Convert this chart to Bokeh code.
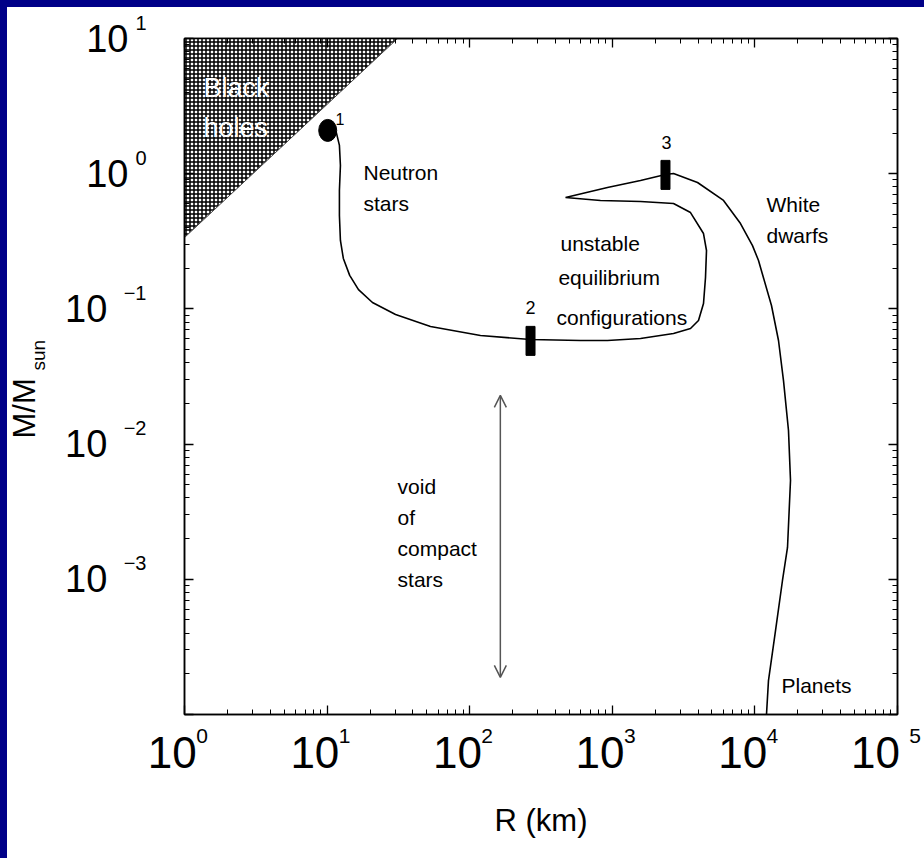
from bokeh.plotting import figure
from bokeh.models import (LogAxis, FixedTicker, Label, Arrow, OpenHead, Spacer,
                          Range1d, CustomJSTickFormatter, Title)
from bokeh.layouts import column, row
from bokeh.embed import file_html
from bokeh.resources import INLINE

# Mass-radius sequence of cold degenerate matter: from the maximum-mass
# neutron star (1) down to the minimum-mass neutron star (2), through the
# unstable branch to the white-dwarf maximum (3) and on to planets.
radius_km = [10.2, 11.6, 12.2, 12.4, 12.2, 12.2, 12.4, 13.0, 14.4, 16.6,
             20.8, 30.2, 53.1, 119, 267, 598, 925, 1577, 2687, 3535,
             4022, 4361, 4504, 4577, 4361, 3535, 2687, 1577, 826, 470,
             925, 1577, 2361, 2687, 3959, 6024, 7925, 9620, 10600, 13070,
             14640, 15870, 17200, 17770, 16930, 15610, 13950, 12450, 12060]
mass_msun = [2.16, 2.02, 1.62, 1.15, 0.751, 0.491, 0.321, 0.236, 0.177, 0.139,
             0.1115, 0.0909, 0.0741, 0.0636, 0.0594, 0.0584, 0.0584, 0.0604, 0.0658, 0.0716,
             0.0821, 0.1096, 0.1707, 0.2704, 0.361, 0.516, 0.602, 0.623, 0.634, 0.667,
             0.790, 0.891, 0.986, 1.003, 0.861, 0.634, 0.428, 0.294, 0.228, 0.106,
             0.0584, 0.0295, 0.0126, 0.00538, 0.00172, 0.00098, 0.000418, 0.000178, 0.0001]

# Turning points of the sequence
max_ns_radius, max_ns_mass = 10.1, 2.09
min_ns_radius, min_ns_mass = 267, 0.058
max_wd_radius, max_wd_mass = 2360, 0.98

# Schwarzschild limit R = 2GM/c^2: everything left of it collapses
bh_radius = [1.0, 1.0, 31.2]
bh_mass = [0.337, 10.0, 10.0]

# Mass gap between the lightest neutron stars and planets
void_radius = 164
void_mass_top, void_mass_bottom = 0.0229, 0.000188

# Decade tick labels: "10" with a raised exponent
x_decades = [0, 1, 2, 3, 4, 5]
x_exponents = ["0", "1", "2", "3", "4", "5"]
y_decades = [1, 0, -1, -2, -3]
y_exponents = ["1", "0", "\u22121", "\u22122", "\u22123"]

FONT = "Liberation Sans"
NAVY = "#000088"
NBSP = "\u00a0"

p = figure(width=917, height=851, x_axis_type="log", y_axis_type="log",
           x_range=Range1d(1, 1e5), y_range=Range1d(1e-4, 10),
           output_backend="svg", toolbar_location=None,
           min_border_left=177, min_border_right=27,
           min_border_top=31, min_border_bottom=144)
p.background_fill_color = "white"
p.border_fill_color = "white"
p.outline_line_color = "black"
p.outline_line_width = 1.5
p.grid.visible = False

blank = CustomJSTickFormatter(code="return ''")
x_major = [10.0 ** k for k in x_decades]
x_ticker = FixedTicker(ticks=x_major,
                       minor_ticks=[m * 10.0 ** k for k in range(0, 5) for m in range(2, 10)])
y_ticker = FixedTicker(ticks=[10.0 ** k for k in range(-4, 2)],
                       minor_ticks=[m * 10.0 ** k for k in range(-4, 1) for m in range(2, 10)])
y_label_ticker = FixedTicker(ticks=[10.0 ** k for k in y_decades])

# exponent labels, padded so they sit to the right of the tick
x_exp_fmt = CustomJSTickFormatter(
    args=dict(decades=x_decades, exps=x_exponents, pad=NBSP * 6),
    code="const i = decades.indexOf(Math.round(Math.log10(tick)));"
         "return i < 0 ? '' : pad + exps[i];")
x_ten_fmt = CustomJSTickFormatter(args=dict(pad=NBSP * 2), code="return '10' + pad;")
# exponent labels lifted half a line above the tick
y_exp_fmt = CustomJSTickFormatter(
    args=dict(decades=y_decades, exps=y_exponents, nb=NBSP),
    code="const i = decades.indexOf(Math.round(Math.log10(tick)));"
         "return i < 0 ? '' : exps[i] + '\\n' + nb;")
y_ten_fmt = CustomJSTickFormatter(
    args=dict(lead=NBSP * 2, pad=NBSP * 2),
    code="return lead + (Math.round(Math.log10(tick)) < 0 ? '10' + pad : '10');")


def frame_axis(ax, ticker, formatter):
    ax.ticker = ticker
    ax.formatter = formatter
    ax.major_tick_in = 9
    ax.major_tick_out = 0
    ax.minor_tick_in = 5
    ax.minor_tick_out = 0
    ax.axis_line_width = 1.5
    ax.major_tick_line_width = 1.3
    ax.minor_tick_line_width = 1.0
    ax.major_label_text_font = FONT
    ax.major_label_text_color = "black"
    ax.axis_label = None


def label_axis(ax, ticker, formatter, size, standoff):
    ax.ticker = ticker
    ax.formatter = formatter
    ax.axis_line_color = None
    ax.major_tick_line_color = None
    ax.minor_tick_line_color = None
    ax.major_tick_out = 0
    ax.minor_tick_out = 0
    ax.major_label_text_font = FONT
    ax.major_label_text_color = "black"
    ax.major_label_text_font_size = size
    ax.major_label_standoff = standoff


# Box: inner axes carry the ticks and the exponents
frame_axis(p.xaxis[0], x_ticker, x_exp_fmt)
p.xaxis[0].major_label_text_font_size = "21px"
p.xaxis[0].major_label_standoff = 9
frame_axis(p.yaxis[0], y_ticker, y_exp_fmt)
p.yaxis[0].major_label_text_font_size = "20px"
p.yaxis[0].major_label_text_line_height = 1.45
p.yaxis[0].major_label_standoff = 38

top_axis = LogAxis()
frame_axis(top_axis, x_ticker, blank)
p.add_layout(top_axis, "above")
right_axis = LogAxis()
frame_axis(right_axis, y_ticker, blank)
p.add_layout(right_axis, "right")

# Outer axes carry the "10" of each decade label and the axis titles
x_tens = LogAxis()
label_axis(x_tens, FixedTicker(ticks=x_major), x_ten_fmt, "44px", -22)
x_tens.axis_label = "R (km)"
x_tens.axis_label_text_font = FONT
x_tens.axis_label_text_color = "black"
x_tens.axis_label_text_font_size = "31px"
x_tens.axis_label_text_font_style = "normal"
x_tens.axis_label_standoff = 23
p.add_layout(x_tens, "below")

y_tens = LogAxis()
label_axis(y_tens, y_label_ticker, y_ten_fmt, "38px", -8)
y_tens.axis_label = None
p.add_layout(y_tens, "left")

p.add_layout(Title(text="sun", text_font=FONT, text_font_size="19px", text_color="black",
                   text_font_style="normal", align="left", offset=344, standoff=-14), "left")
p.add_layout(Title(text="M/M", text_font=FONT, text_font_size="31px", text_color="black",
                   text_font_style="normal", align="left", offset=276, standoff=-18), "left")

# Black-hole region, cross-hatched
p.patch(bh_radius, bh_mass, fill_color="white", line_color="#444444", line_width=1,
        hatch_pattern="cross", hatch_color="black", hatch_scale=4, hatch_weight=1.5)

# Mass-radius curve
p.line(radius_km, mass_msun, line_color="black", line_width=1.6)

# Turning-point markers
p.ellipse([max_ns_radius], [max_ns_mass], width=18, height=22,
          width_units="screen", height_units="screen",
          fill_color="black", line_color="black")
p.rect([min_ns_radius, max_wd_radius], [min_ns_mass, max_wd_mass], width=9, height=29,
       width_units="screen", height_units="screen", fill_color="black", line_color="black")

# Double-headed arrow across the void
p.add_layout(Arrow(x_start=void_radius, y_start=void_mass_top,
                   x_end=void_radius, y_end=void_mass_bottom,
                   line_color="#555555", line_width=1.5,
                   start=OpenHead(size=12, line_color="#555555", line_width=1.5),
                   end=OpenHead(size=12, line_color="#555555", line_width=1.5)))


def label(x, y, text, size, align="left", color="black"):
    p.add_layout(Label(x=x, y=y, text=text, text_font=FONT, text_font_size=f"{size}px",
                       text_align=align, text_baseline="alphabetic", text_color=color))


# Region annotations
label(1.36, 4.27, "Black", 27, color="white")
label(1.36, 2.16, "holes", 27, color="white")
label(11.45, 2.56, "1", 16)
label(min_ns_radius, 0.1024, "2", 18, align="center")
label(2400, 1.70, "3", 18, align="center")
label(18.0, 1.02, "Neutron", 21)
label(18.0, 0.602, "stars", 21)
label(433, 0.3046, "unstable", 21)
label(419, 0.1707, "equilibrium", 21)
label(406, 0.0864, "configurations", 21)
label(12060, 0.592, "White", 21)
label(12060, 0.349, "dwarfs", 21)
label(31.2, 0.00486, "void", 21)
label(31.2, 0.00287, "of", 21)
label(31.2, 0.00169, "compact", 21)
label(31.2, 0.000997, "stars", 21)
label(15370, 0.000164, "Planets", 21)

top_bar = Spacer(width=924, height=7, styles={"background-color": NAVY})
left_bar = Spacer(width=7, height=851, styles={"background-color": NAVY})
page = column(top_bar, row(left_bar, p))

open("out.html", "w").write(file_html(page, INLINE))
